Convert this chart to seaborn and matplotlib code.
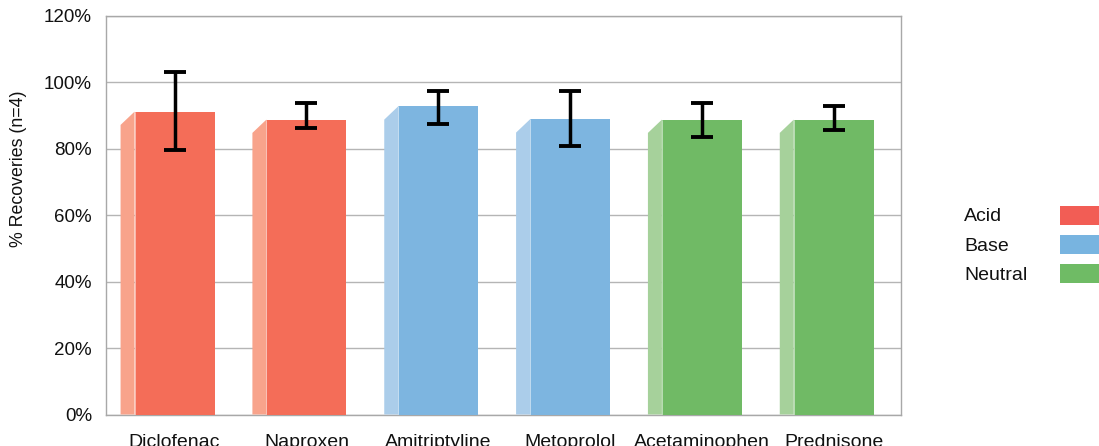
import matplotlib
matplotlib.use("Agg")
import matplotlib.pyplot as plt
import seaborn as sns
import pandas as pd
from matplotlib.patches import Rectangle, Polygon
from matplotlib.ticker import FuncFormatter

drugs = ["Diclofenac", "Naproxen", "Amitriptyline", "Metoprolol", "Acetaminophen", "Prednisone"]
types = ["Acid", "Acid", "Base", "Base", "Neutral", "Neutral"]
recovery = [91.2, 88.8, 92.8, 88.9, 88.8, 88.8]
err_low = [79.6, 86.2, 87.5, 80.8, 83.5, 85.6]
err_high = [103.2, 93.8, 97.4, 97.4, 93.8, 92.8]
y_ticks = [0, 20, 40, 60, 80, 100, 120]

front_colors = {"Acid": "#F46D58", "Base": "#7DB5E0", "Neutral": "#70BA65"}
side_colors = {"Acid": "#F8A38B", "Base": "#ABCDEA", "Neutral": "#A6D19B"}
legend_colors = {"Acid": "#F25D55", "Base": "#78B4E0", "Neutral": "#6FBB65"}

df = pd.DataFrame({"drug": drugs, "type": types, "rec": recovery})

sns.set_theme(style="white")
plt.rcParams["font.family"] = ["Liberation Sans", "DejaVu Sans"]

fig = plt.figure(figsize=(10.99, 4.46), dpi=100)
ax = fig.add_axes([106 / 1099, 1 - 414.5 / 446, (901 - 106) / 1099, (414.5 - 16) / 446])

bar_w = 0.607
sns.barplot(data=df, x="drug", y="rec", hue="type", palette=front_colors,
            dodge=False, width=bar_w, legend=False, ax=ax, zorder=3,
            saturation=1, errorbar=None, linewidth=0)

# side faces (pseudo-3D)
dx, dy = 0.106, 4.0
for i, (v, t) in enumerate(zip(recovery, types)):
    xl = i - bar_w / 2
    poly = Polygon([(xl, 0), (xl, v), (xl - dx, v - dy), (xl - dx, 0)],
                   closed=True, facecolor=side_colors[t], edgecolor="none", zorder=3)
    ax.add_patch(poly)
    ax.plot([xl, xl], [0, v], color="#FFFFFF", lw=0.6, alpha=0.6, zorder=3.5)

# error bars
yerr = [[r - lo for r, lo in zip(recovery, err_low)],
        [hi - r for r, hi in zip(recovery, err_high)]]
ax.errorbar(range(len(drugs)), recovery, yerr=yerr, fmt="none", ecolor="black",
            elinewidth=2.5, capsize=8, capthick=2.8, zorder=5)

ax.set_xlim(-0.52, 5.51)
ax.set_ylim(0, 120)
ax.set_yticks(y_ticks)
ax.yaxis.set_major_formatter(FuncFormatter(lambda v, p: f"{int(v)}%"))
ax.grid(axis="y", color="#B5B5B5", linewidth=1.0, zorder=0)
ax.set_axisbelow(True)
for s in ax.spines.values():
    s.set_color("#A8A8A8")
    s.set_linewidth(1.0)
ax.tick_params(axis="both", length=0, colors="#111111")
ax.tick_params(axis="y", labelsize=13.5, pad=10)
ax.tick_params(axis="x", labelsize=14, pad=14)
ax.set_xlabel("")
ax.set_ylabel("")
fig.text(18.5 / 1099, 1 - 169 / 446, "% Recoveries (n=4)", rotation=90,
         fontsize=12.8, color="#111111", ha="center", va="center")

# legend on the right
for j, t in enumerate(["Acid", "Base", "Neutral"]):
    ytop = 206 + j * 29
    fig.add_artist(Rectangle((1060 / 1099, 1 - (ytop + 19) / 446), 40 / 1099, 19 / 446,
                             transform=fig.transFigure, facecolor=legend_colors[t],
                             edgecolor="none"))
    fig.text(964 / 1099, 1 - (ytop + 11) / 446, t, fontsize=14, color="#111111",
             ha="left", va="center")

fig.savefig("out.png", dpi=100)
